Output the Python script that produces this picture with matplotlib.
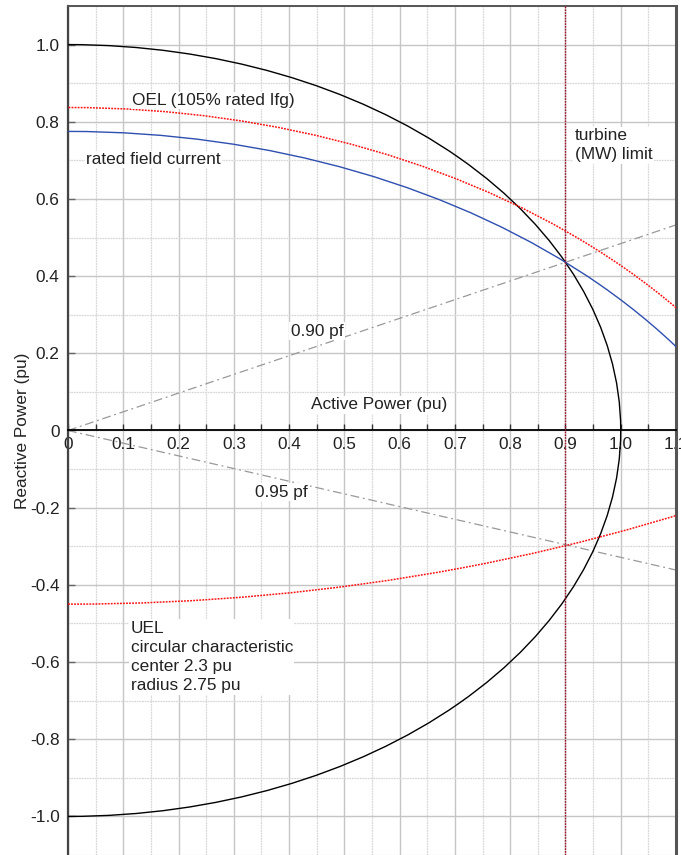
import numpy as np
import matplotlib
matplotlib.use("Agg")
import matplotlib.pyplot as plt
from matplotlib.patches import Arc
from matplotlib.ticker import MultipleLocator, FuncFormatter

plt.rcParams['font.family'] = ['Liberation Sans', 'DejaVu Sans']

# ---- data ----
x_limits = [0.0, 1.1]
y_limits = [-1.1, 1.1]
x_ticks = [0.0, 0.1, 0.2, 0.3, 0.4, 0.5, 0.6, 0.7, 0.8, 0.9, 1.0, 1.1]
y_ticks = [1.0, 0.8, 0.6, 0.4, 0.2, 0.0, -0.2, -0.4, -0.6, -0.8, -1.0]

# circular limit curves: (center P, center Q, radius, theta1, theta2)
armature_circle = (0.0, 0.0, 1.0, -90, 90)        # MVA limit
field_circle = (0.0, -0.589, 1.364, 0, 90)        # rated field current
oel_circle = (0.0, -0.589, 1.426, 0, 90)          # OEL 105% rated Ifg
uel_circle = (0.0, 2.3, 2.75, 270, 300)           # UEL center 2.3 radius 2.75

turbine_limit_mw = 0.9
pf_lagging = 0.90
pf_leading = 0.95

fig = plt.figure(figsize=(6.81, 8.55), dpi=100)
ax = fig.add_axes([68 / 681, 0.0, 608 / 681, 1 - 6 / 855])
ax.set_xlim(*x_limits)
ax.set_ylim(*y_limits)

FS = 12.4

# grid
ax.xaxis.set_major_locator(MultipleLocator(0.1))
ax.xaxis.set_minor_locator(MultipleLocator(0.05))
ax.yaxis.set_major_locator(MultipleLocator(0.2))
ax.yaxis.set_minor_locator(MultipleLocator(0.1))
ax.set_xticks(x_ticks)
ax.set_yticks(y_ticks)
ax.grid(which='major', color='#c6c6c6', lw=1.0, zorder=0)
ax.grid(which='minor', color='#d8d8d8', lw=0.9, ls=(0, (1.5, 0.6)), zorder=0)
ax.set_axisbelow(True)

# spines
ax.spines['bottom'].set_position(('data', 0))
ax.spines['bottom'].set_color('black')
ax.spines['bottom'].set_linewidth(1.3)
ax.spines['left'].set_color('#444444')
ax.spines['left'].set_linewidth(1.6)
ax.spines['top'].set_color('#555555')
ax.spines['top'].set_linewidth(1.4)
ax.spines['right'].set_color('#555555')
ax.spines['right'].set_linewidth(2.2)

ax.tick_params(axis='x', which='both', direction='in', length=4, width=1.0,
               color='#333333', labelsize=FS, pad=4.5, labelcolor='#222222')
ax.tick_params(axis='y', which='both', direction='in', length=5, width=1.0,
               color='#666666', labelsize=FS, pad=6, labelcolor='#222222')
ax.tick_params(axis='y', which='minor', length=0)
ax.xaxis.set_major_formatter(FuncFormatter(lambda v, p: '0' if abs(v) < 1e-9 else f'{v:.1f}'))
ax.yaxis.set_major_formatter(FuncFormatter(lambda v, p: '0' if abs(v) < 1e-9 else f'{v:.1f}'))

ax.set_ylabel('Reactive Power (pu)', fontsize=FS, color='#222222')
ax.yaxis.set_label_coords(-0.063, 0.5)


def add_arc(spec, **kw):
    cx, cy, r, t1, t2 = spec
    ax.add_patch(Arc((cx, cy), 2 * r, 2 * r, theta1=t1, theta2=t2, **kw))


add_arc(armature_circle, color='black', lw=1.0, zorder=3)
add_arc(field_circle, color='#2f4fb0', lw=1.0, zorder=3)
add_arc(oel_circle, color='#ff1010', lw=1.1, ls=(0, (1.2, 0.8)), zorder=3)
add_arc(uel_circle, color='#ff1010', lw=1.1, ls=(0, (1.2, 0.8)), zorder=3)

# power factor lines
for pf, sign in [(pf_lagging, 1), (pf_leading, -1)]:
    ax.axline((0, 0), slope=sign * np.tan(np.arccos(pf)), color='#999999', lw=0.9,
              ls=(0, (7, 3, 1.5, 3)), zorder=2)

# turbine limit
ax.axvline(turbine_limit_mw, color='#a0102a', lw=1.0, ls=(0, (1.2, 0.8)), zorder=3)

box = dict(facecolor='white', edgecolor='none', pad=1.0)
tkw = dict(fontsize=FS, color='#222222', zorder=5, bbox=box)
ax.text(0.116, 0.855, 'OEL (105% rated Ifg)', va='center', ha='left', **tkw)
ax.text(0.033, 0.702, 'rated field current', va='center', ha='left', **tkw)
ax.text(0.917, 0.784, 'turbine\n(MW) limit', va='top', ha='left', linespacing=1.35, **tkw)
ax.text(0.403, 0.257, '0.90 pf', va='center', ha='left', **tkw)
ax.text(0.339, -0.160, '0.95 pf', va='center', ha='left', **tkw)
ax.text(0.4395, 0.067, 'Active Power (pu)', va='center', ha='left', **tkw)
ax.text(0.1135, -0.493, 'UEL\ncircular characteristic\ncenter 2.3 pu\nradius 2.75 pu',
        va='top', ha='left', linespacing=1.35, **tkw)

fig.savefig('out.png', dpi=100)
